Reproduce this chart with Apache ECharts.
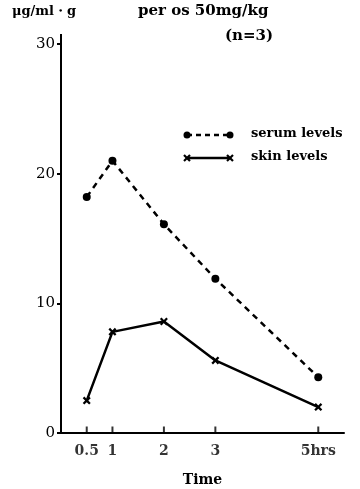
<!DOCTYPE html>
<html><head><meta charset="utf-8">
<script src="https://cdn.jsdelivr.net/npm/echarts@6/dist/echarts.min.js"></script>
<style>html,body{margin:0;padding:0;background:#fff}#c{width:360px;height:489px}</style>
</head><body><div id="c"></div>
<script>
const times = [0.5, 1, 2, 3, 5];
const serumLevels = [18.2, 21.0, 16.1, 11.9, 4.3];
const skinLevels = [2.5, 7.8, 8.6, 5.6, 2.0];
const yTicks = [0, 10, 20, 30];
const xTicks = [0.5, 1, 2, 3, 5];
const seriesNames = ['serum levels', 'skin levels'];

const F = '"DejaVu Serif", "Liberation Serif", serif';
const X = 'path://M0,2L2,0L5,3L8,0L10,2L7,5L10,8L8,10L5,7L2,10L0,8L3,5Z';
function cross(cx, cy, r) {
  return [
    {type: 'line', shape: {x1: cx - r, y1: cy - r, x2: cx + r, y2: cy + r}, style: {stroke: '#000', lineWidth: 2.2}},
    {type: 'line', shape: {x1: cx - r, y1: cy + r, x2: cx + r, y2: cy - r}, style: {stroke: '#000', lineWidth: 2.2}}
  ];
}
const chart = echarts.init(document.getElementById('c'), null, {renderer: 'canvas'});
chart.setOption({
  animation: false,
  backgroundColor: '#fff',
  grid: {left: 61, right: 16, top: 44, bottom: 56, containLabel: false, outerBoundsMode: 'none'},
  xAxis: {
    type: 'value', min: 0, max: 5.5,
    name: 'Time', nameLocation: 'middle', nameGap: 40,
    nameTextStyle: {fontFamily: F, fontSize: 14, fontWeight: 'bold', color: '#000'},
    axisLine: {lineStyle: {color: '#000', width: 2}},
    axisTick: {show: false},
    splitLine: {show: false},
    axisLabel: {show: false}
  },
  yAxis: {
    type: 'value', min: 0, max: 30, interval: 10,
    axisLine: {show: true, lineStyle: {color: '#000', width: 2}},
    axisTick: {show: true, length: 4, lineStyle: {color: '#000', width: 2}},
    splitLine: {show: false},
    axisLabel: {fontFamily: F, fontSize: 15, color: '#000', margin: 6,
      formatter: v => yTicks.includes(v) ? String(v) : ''}
  },
  series: [
    {
      name: seriesNames[0], type: 'line',
      data: times.map((t, i) => [t, serumLevels[i]]),
      symbol: 'circle', symbolSize: 8,
      itemStyle: {color: '#000'},
      lineStyle: {color: '#000', width: 2.5, type: [6, 5]}
    },
    {
      name: seriesNames[1], type: 'line',
      data: times.map((t, i) => [t, skinLevels[i]]),
      symbol: X, symbolSize: 8,
      itemStyle: {color: '#000'},
      lineStyle: {color: '#000', width: 2.5}
    },
    {
      type: 'scatter', silent: true,
      data: xTicks.map(t => [t, 0]),
      symbol: 'rect', symbolSize: [2, 7], symbolOffset: [0, -3],
      itemStyle: {color: '#000'},
      label: {show: true, position: 'bottom', distance: 11,
        fontFamily: F, fontSize: 14, color: '#000', fontWeight: 'bold',
        formatter: p => p.value[0] === 5 ? '5hrs' : String(p.value[0])}
    }
  ],
  graphic: [
    {type: 'line', shape: {x1: 61, y1: 34, x2: 61, y2: 44}, style: {stroke: '#000', lineWidth: 2}},
    {type: 'text', left: 12, top: 5, style: {text: 'μg/ml・g', font: 'bold 13px ' + F, fill: '#000'}},
    {type: 'text', left: 138, top: 4, style: {text: 'per os 50mg/kg', font: 'bold 15px ' + F, fill: '#000'}},
    {type: 'text', left: 225, top: 29, style: {text: '(n=3)', font: 'bold 15px ' + F, fill: '#000'}},
    {type: 'line', shape: {x1: 187, y1: 135, x2: 230, y2: 135}, style: {stroke: '#000', lineWidth: 2.5, lineDash: [5, 4]}},
    {type: 'circle', shape: {cx: 187, cy: 135, r: 3.5}, style: {fill: '#000'}},
    {type: 'circle', shape: {cx: 230, cy: 135, r: 3.5}, style: {fill: '#000'}},
    {type: 'text', left: 251, top: 127, style: {text: seriesNames[0], font: 'bold 13px ' + F, fill: '#000'}},
    {type: 'line', shape: {x1: 187, y1: 158, x2: 230, y2: 158}, style: {stroke: '#000', lineWidth: 2.5}},
    ...cross(187, 158, 3),
    ...cross(230, 158, 3),
    {type: 'text', left: 251, top: 150, style: {text: seriesNames[1], font: 'bold 13px ' + F, fill: '#000'}}
  ]
});
</script></body></html>
